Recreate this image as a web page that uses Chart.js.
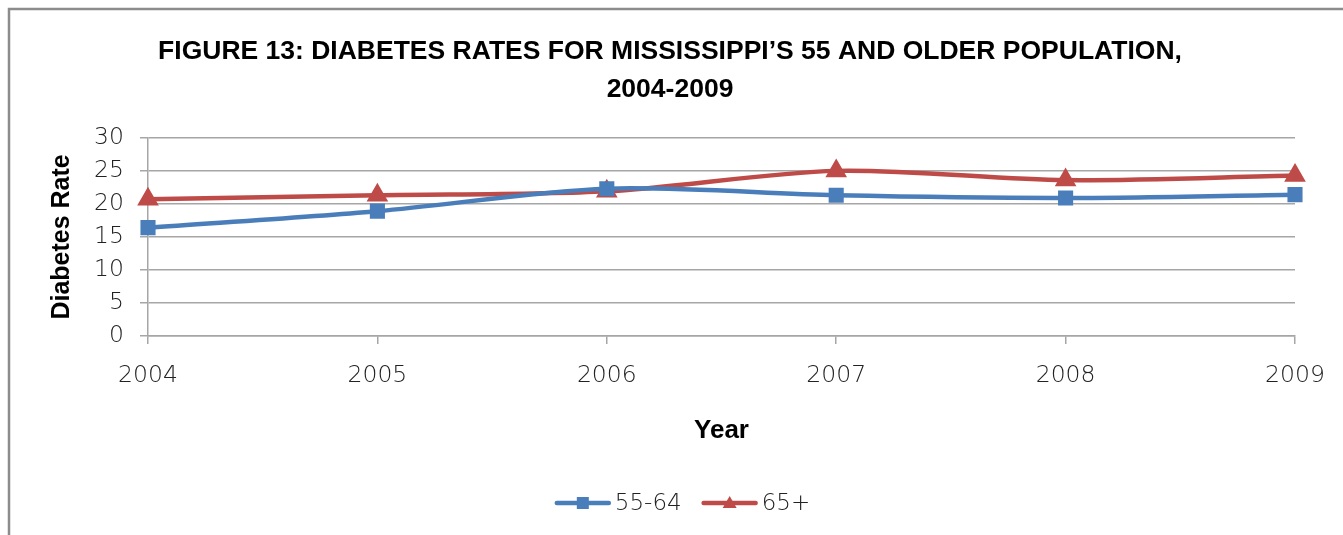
<!DOCTYPE html>
<html>
<head>
<meta charset="utf-8">
<script src="https://cdn.jsdelivr.net/npm/chart.js@4"></script>
<style>
  html, body { margin: 0; padding: 0; background: #fff; }
  #wrap { width: 1343px; height: 535px; }
</style>
</head>
<body>
<div id="wrap"><canvas id="chart" width="1343" height="535"></canvas></div>
<script>
'use strict';

var years = ['2004', '2005', '2006', '2007', '2008', '2009'];
var rates5564 = [16.4, 18.9, 22.3, 21.3, 20.9, 21.4];
var rates65 = [20.7, 21.3, 21.9, 25.0, 23.6, 24.3];
var yTicks = [0, 5, 10, 15, 20, 25, 30];

var blue = '#4a7ebb';
var red = '#be4b48';
var gridGray = '#a6a6a6';
var tickFont = { family: 'DejaVu Sans', size: 23.5, weight: 200 };

// gray frame on top and left, like the original chart box
var framePlugin = {
  id: 'frame',
  beforeDraw: function (chart) {
    var c = chart.ctx;
    c.save();
    c.strokeStyle = '#8c8c8c';
    c.lineWidth = 2.5;
    c.beginPath();
    c.moveTo(chart.width, 9);
    c.lineTo(9, 9);
    c.lineTo(9, chart.height);
    c.stroke();
    c.restore();
  }
};

// Excel style legend: line sample with marker in the middle
var lineLegend = {
  id: 'lineLegend',
  afterDraw: function (chart) {
    var c = chart.ctx;
    var sets = chart.data.datasets;
    var y = chart.height - 32;
    var lineW = 52, gap = 6, itemGap = 22;
    c.save();
    c.font = '200 23px "DejaVu Sans"';
    c.textBaseline = 'middle';
    var widths = sets.map(function (d) { return lineW + gap + c.measureText(d.label).width; });
    var total = widths.reduce(function (a, b) { return a + b; }) + itemGap * (sets.length - 1);
    var x = (chart.width - total) / 2 + 12;
    sets.forEach(function (d, i) {
      c.strokeStyle = d.borderColor;
      c.lineWidth = d.borderWidth;
      c.lineCap = 'round';
      c.beginPath();
      c.moveTo(x, y);
      c.lineTo(x + lineW, y);
      c.stroke();
      c.fillStyle = d.pointBackgroundColor;
      var mx = x + lineW / 2;
      if (d.pointStyle === 'rect') {
        c.fillRect(mx - 6, y - 6, 12, 12);
      } else {
        c.beginPath();
        c.moveTo(mx, y - 7);
        c.lineTo(mx + 7, y + 5);
        c.lineTo(mx - 7, y + 5);
        c.closePath();
        c.fill();
      }
      c.fillStyle = '#222';
      c.fillText(d.label, x + lineW + gap, y + 1);
      x += widths[i] + itemGap;
    });
    c.restore();
  }
};

var ctx = document.getElementById('chart').getContext('2d');
var chart = new Chart(ctx, {
  type: 'line',
  data: {
    labels: years,
    datasets: [{
      label: '55-64',
      data: rates5564,
      borderColor: blue,
      backgroundColor: blue,
      pointBackgroundColor: blue,
      pointBorderColor: blue,
      borderWidth: 4.5,
      pointStyle: 'rect',
      pointRadius: 7.5,
      tension: 0.3
    }, {
      label: '65+',
      data: rates65,
      borderColor: red,
      backgroundColor: red,
      pointBackgroundColor: red,
      pointBorderColor: red,
      borderWidth: 4.5,
      pointStyle: 'triangle',
      pointRadius: 8,
      tension: 0.3
    }]
  },
  plugins: [framePlugin, lineLegend],
  options: {
    responsive: false,
    animation: false,
    layout: { padding: { left: 45, right: 48, top: 0, bottom: 70 } },
    plugins: {
      legend: { display: false },
      tooltip: { enabled: false },
      title: {
        display: true,
        text: ['FIGURE 13: DIABETES RATES FOR MISSISSIPPI\u2019S 55 AND OLDER POPULATION,', '2004-2009'],
        color: '#000',
        font: { family: 'Liberation Sans', size: 26.5, weight: 'bold', lineHeight: 1.45 },
        padding: { top: 32, bottom: 29 }
      }
    },
    scales: {
      x: {
        offset: false,
        afterFit: function (s) { s.height = 129; },
        grid: {
          drawOnChartArea: false,
          drawTicks: true,
          tickLength: 8,
          color: gridGray,
          lineWidth: 1.5
        },
        border: { color: gridGray, width: 1.5 },
        ticks: { font: tickFont, color: '#222', padding: 18, maxRotation: 0 },
        title: {
          display: true,
          text: 'Year',
          color: '#000',
          font: { family: 'Liberation Sans', size: 26, weight: 'bold' },
          padding: { top: 0, bottom: 19 }
        }
      },
      y: {
        min: 0,
        max: 30,
        afterFit: function (s) { s.width = 103; },
        afterBuildTicks: function (s) { s.ticks = yTicks.map(function (v) { return { value: v }; }); },
        grid: {
          color: gridGray,
          lineWidth: 1.5,
          tickLength: 8
        },
        border: { color: gridGray, width: 1.5 },
        ticks: { font: tickFont, color: '#222', padding: 16 },
        title: {
          display: true,
          text: 'Diabetes Rate',
          color: '#000',
          font: { family: 'Liberation Sans', size: 25, weight: 'bold' },
          padding: { top: 2, bottom: 0 }
        }
      }
    }
  }
});
</script>
</body>
</html>
